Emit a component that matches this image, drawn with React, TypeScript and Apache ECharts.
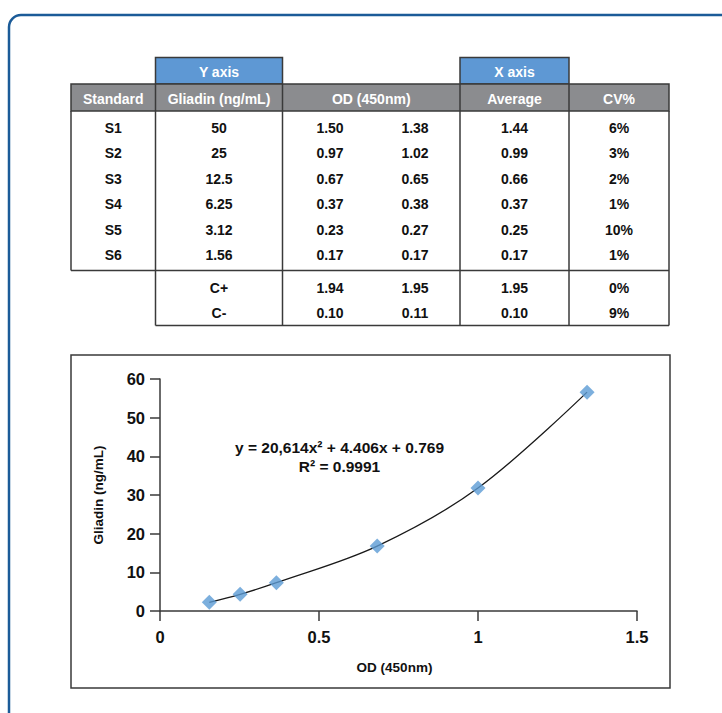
import React, { useEffect, useRef } from "react";
import * as echarts from "echarts";

// ---- Table data ----
const headers = ["Standard", "Gliadin (ng/mL)", "OD (450nm)", "Average", "CV%"];
const axisTags = ["Y axis", "X axis"];
const standards = ["S1", "S2", "S3", "S4", "S5", "S6"];
const gliadinConc = ["50", "25", "12.5", "6.25", "3.12", "1.56"];
const odRep1 = ["1.50", "0.97", "0.67", "0.37", "0.23", "0.17"];
const odRep2 = ["1.38", "1.02", "0.65", "0.38", "0.27", "0.17"];
const odAverage = ["1.44", "0.99", "0.66", "0.37", "0.25", "0.17"];
const cvPercent = ["6%", "3%", "2%", "1%", "10%", "1%"];
const controls = ["C+", "C-"];
const ctrlRep1 = ["1.94", "0.10"];
const ctrlRep2 = ["1.95", "0.11"];
const ctrlAverage = ["1.95", "0.10"];
const ctrlCv = ["0%", "9%"];

// ---- Plot data ----
const odPoints = [0.155, 0.252, 0.366, 0.683, 1.0, 1.343];
const gliadinPoints = [2.25, 4.32, 7.33, 16.8, 31.8, 56.6];
const equationText = "y = 20,614x\u00B2 + 4.406x + 0.769";
const r2Text = "R\u00B2 = 0.9991";
const xAxisTitle = "OD (450nm)";
const yAxisTitle = "Gliadin (ng/mL)";

const FONT = '"Liberation Sans", Arial, Helvetica, sans-serif';
const LINE = "#3a3a3a";

function txt(x: number, y: number, text: string, size: number, fill: string) {
  return {
    type: "text",
    x,
    y,
    silent: true,
    style: {
      text,
      fill,
      fontSize: size,
      fontWeight: "bold",
      fontFamily: FONT,
      align: "center",
      verticalAlign: "middle",
    },
  };
}
function ln(x1: number, y1: number, x2: number, y2: number) {
  return {
    type: "line",
    silent: true,
    shape: { x1, y1, x2, y2 },
    style: { stroke: LINE, lineWidth: 1.5 },
  };
}

function buildTable() {
  const colX = [71, 155.5, 282.5, 460, 569, 669];
  const tagTop = 57.5;
  const headTop = 84;
  const headBot = 111;
  const sepY = 270.5;
  const botY = 325.5;
  const rowY0 = 127.5;
  const rowStep = 25.5;
  const ctrlY = [288, 312.5];
  const odSub = [330, 415];
  const center = (i: number) => (colX[i] + colX[i + 1]) / 2;
  const els: any[] = [];

  const tagCols = [1, 3];
  tagCols.forEach((c, k) => {
    els.push({
      type: "rect",
      silent: true,
      shape: { x: colX[c], y: tagTop, width: colX[c + 1] - colX[c], height: headTop - tagTop },
      style: { fill: "#5e98d4", stroke: LINE, lineWidth: 1.5 },
    });
    els.push(txt(center(c), (tagTop + headTop) / 2 + 1, axisTags[k], 14, "#ffffff"));
  });
  els.push({
    type: "rect",
    silent: true,
    shape: { x: colX[0], y: headTop, width: colX[5] - colX[0], height: headBot - headTop },
    style: { fill: "#8b8c8f", stroke: LINE, lineWidth: 1.5 },
  });
  headers.forEach((h, i) => els.push(txt(center(i), (headTop + headBot) / 2 + 1, h, 14, "#ffffff")));
  [1, 2, 3, 4].forEach((i) => els.push(ln(colX[i], headTop, colX[i], headBot)));
  els.push(ln(colX[0], headBot, colX[0], sepY));
  els.push(ln(colX[0], sepY, colX[5], sepY));
  els.push(ln(colX[5], headBot, colX[5], botY));
  els.push(ln(colX[1], headBot, colX[1], botY));
  els.push(ln(colX[1], botY, colX[5], botY));
  [2, 3, 4].forEach((i) => els.push(ln(colX[i], headBot, colX[i], botY)));

  standards.forEach((s, r) => {
    const y = rowY0 + r * rowStep;
    els.push(txt(center(0), y, s, 14, "#111"));
    els.push(txt(center(1), y, gliadinConc[r], 14, "#111"));
    els.push(txt(odSub[0], y, odRep1[r], 14, "#111"));
    els.push(txt(odSub[1], y, odRep2[r], 14, "#111"));
    els.push(txt(center(3), y, odAverage[r], 14, "#111"));
    els.push(txt(center(4), y, cvPercent[r], 14, "#111"));
  });
  controls.forEach((c, r) => {
    const y = ctrlY[r];
    els.push(txt(center(1), y, c, 14, "#111"));
    els.push(txt(odSub[0], y, ctrlRep1[r], 14, "#111"));
    els.push(txt(odSub[1], y, ctrlRep2[r], 14, "#111"));
    els.push(txt(center(3), y, ctrlAverage[r], 14, "#111"));
    els.push(txt(center(4), y, ctrlCv[r], 14, "#111"));
  });
  return els;
}

export default function App() {
  const ref = useRef<HTMLDivElement>(null);
  useEffect(() => {
    if (!ref.current) return;
    const chart = echarts.init(ref.current, null, { renderer: "svg" });
    const pts = odPoints.map((x, i) => [x, gliadinPoints[i]]);
    chart.setOption({
      animation: false,
      backgroundColor: "#ffffff",
      grid: { left: 160, right: 85, top: 379, bottom: 102 },
      xAxis: {
        type: "value",
        min: 0,
        max: 1.5,
        interval: 0.5,
        name: xAxisTitle,
        nameLocation: "middle",
        nameGap: 49,
        nameTextStyle: { fontSize: 13.5, fontWeight: "bold", fontFamily: FONT, color: "#111", padding: [0, 8, 0, 0] },
        axisLine: { show: true, onZero: false, lineStyle: { color: LINE, width: 1.5 } },
        axisTick: { show: true, inside: false, length: 10, lineStyle: { color: LINE, width: 1.5 } },
        axisLabel: { margin: 17, fontSize: 16.5, fontWeight: "bold", fontFamily: FONT, color: "#111" },
        splitLine: { show: false },
      },
      yAxis: {
        type: "value",
        min: 0,
        max: 60,
        interval: 10,
        name: yAxisTitle,
        nameLocation: "middle",
        nameGap: 55,
        nameTextStyle: { fontSize: 13.5, fontWeight: "bold", fontFamily: FONT, color: "#111" },
        axisLine: { show: true, lineStyle: { color: LINE, width: 1.5 } },
        axisTick: { show: true, inside: false, length: 10, lineStyle: { color: LINE, width: 1.5 } },
        axisLabel: { margin: 15, fontSize: 16.5, fontWeight: "bold", fontFamily: FONT, color: "#111" },
        splitLine: { show: false },
      },
      graphic: [
        {
          type: "rect",
          silent: true,
          shape: { x: 9, y: 15, width: 780, height: 780, r: 12 },
          style: { fill: "none", stroke: "#1b5b98", lineWidth: 2.5 },
        },
        {
          type: "rect",
          silent: true,
          shape: { x: 71, y: 355, width: 599, height: 333 },
          style: { fill: "none", stroke: LINE, lineWidth: 1.5 },
        },
        ...buildTable(),
        txt(339.5, 447, equationText, 15.5, "#111"),
        txt(339.5, 466, r2Text, 15.5, "#111"),
      ],
      series: [
        {
          type: "line",
          data: pts,
          smooth: 0.35,
          symbol: "none",
          z: 2,
          lineStyle: { color: "#1a1a1a", width: 1.3 },
        },
        {
          type: "scatter",
          data: pts,
          symbol: "diamond",
          symbolSize: 15,
          z: 3,
          itemStyle: { color: "#5b9bd5" },
        },
      ],
    });
    return () => chart.dispose();
  }, []);
  return (
    <div
      ref={ref}
      style={{ position: "fixed", left: 0, top: 0, width: 722, height: 713, background: "#fff" }}
    />
  );
}
